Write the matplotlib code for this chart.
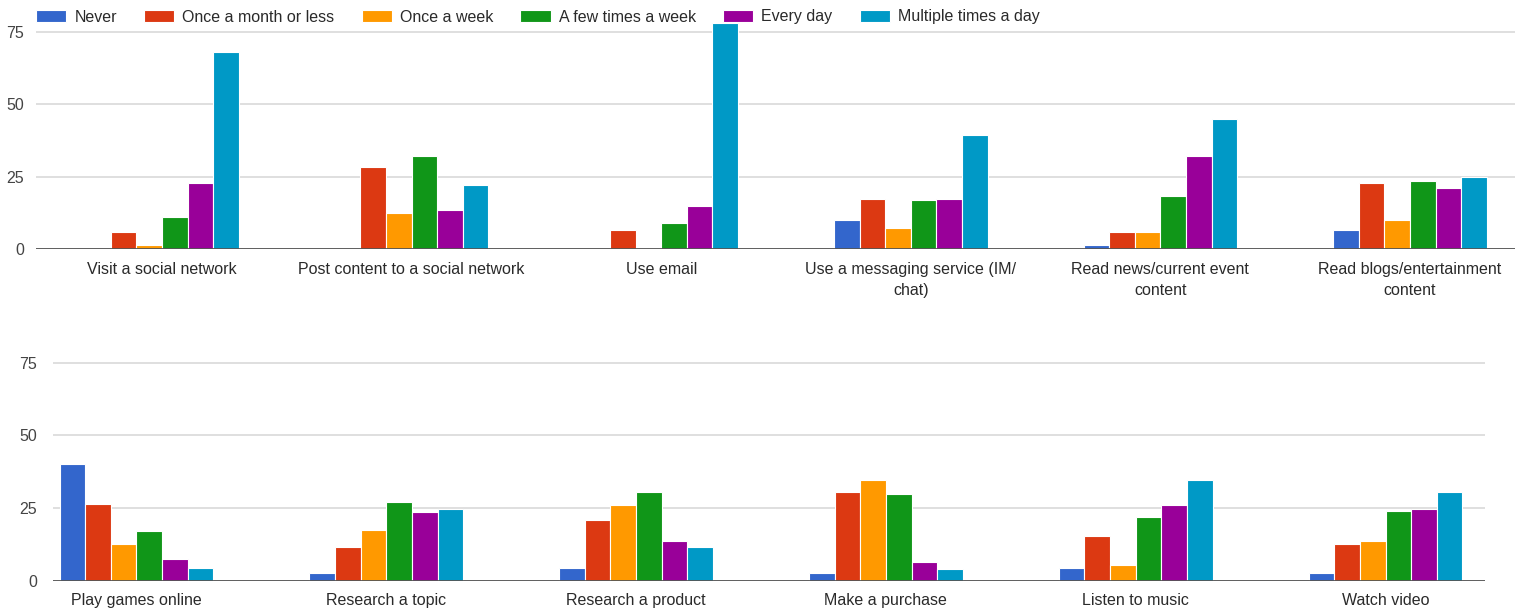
import matplotlib
matplotlib.use("Agg")
import matplotlib.pyplot as plt
import numpy as np

plt.rcParams['font.family'] = ['Liberation Sans', 'DejaVu Sans']

series = ["Never", "Once a month or less", "Once a week",
          "A few times a week", "Every day", "Multiple times a day"]
colors = ["#3366cc", "#dc3912", "#ff9900", "#109618", "#990099", "#0099c6"]

top_categories = ["Visit a social network", "Post content to a social network",
                  "Use email", "Use a messaging service (IM/\nchat)",
                  "Read news/current event\ncontent",
                  "Read blogs/entertainment\ncontent"]
bottom_categories = ["Play games online", "Research a topic", "Research a product",
                     "Make a purchase", "Listen to music", "Watch video"]

# rows: series (Never .. Multiple times a day), columns: activities
top_values = [
    [0, 0, 0, 10, 1.5, 6.5],          # Never
    [6, 28.5, 6.5, 17.5, 6, 23],      # Once a month or less
    [1.5, 12.5, 0.5, 7.5, 6, 10],     # Once a week
    [11, 32, 9, 17, 18.5, 23.5],      # A few times a week
    [23, 13.5, 15, 17.5, 32, 21],     # Every day
    [68, 22, 78, 39.5, 45, 25],       # Multiple times a day
]
bottom_values = [
    [40, 2.5, 4.5, 2.5, 4.5, 2.5],
    [26.5, 11.5, 21, 30.5, 15.5, 12.5],
    [12.5, 17.5, 26, 34.5, 5.5, 13.5],
    [17, 27, 30.5, 30, 22, 24],
    [7.5, 23.5, 13.5, 6.5, 26, 24.5],
    [4.5, 24.5, 11.5, 4, 34.5, 30.5],
]
yticks = [0, 25, 50, 75]

W, H = 1525, 612
fig = plt.figure(figsize=(W / 100, H / 100), dpi=100)

def px_axes(left, right, top, bottom):
    return fig.add_axes([left / W, 1 - bottom / H, (right - left) / W, (bottom - top) / H])

ax_top = px_axes(36, 1515, 23, 249.3)
ax_bot = px_axes(53, 1485, 354, 580.7)

slot = 0.1026
text_color = "#2a2a2a"

def draw_panel(ax, cats, values, xlim, ypad, xpad):
    x = np.arange(len(cats))
    handles = []
    for i, (name, col) in enumerate(zip(series, colors)):
        h = ax.bar(x + (i - 2.5) * slot, values[i], width=slot, color=col,
                   edgecolor="white", linewidth=0.8, zorder=3, label=name)
        handles.append(h)
    ax.set_xlim(*xlim)
    ax.set_ylim(0, 78)
    ax.set_yticks(yticks)
    ax.set_xticks(x)
    ax.set_xticklabels(cats, fontsize=11.5, color=text_color, linespacing=1.5)
    ax.tick_params(axis="x", length=0, pad=xpad)
    ax.tick_params(axis="y", length=0, pad=ypad, labelsize=11.5, labelcolor="#444444")
    ax.yaxis.grid(True, color="#d9d9d9", linewidth=1.2, zorder=0)
    ax.set_axisbelow(True)
    for s in ax.spines.values():
        s.set_visible(False)
    ax.axhline(0, color="#555555", linewidth=1.3, zorder=4)
    return handles

handles = draw_panel(ax_top, top_categories, top_values, (-0.505, 5.421), 8.5, 9)
draw_panel(ax_bot, bottom_categories, bottom_values, (-0.334, 5.398), 11.5, 8.5)

fig.legend(handles=handles, labels=series, loc="center left",
           bbox_to_anchor=(36 / W, 1 - 17 / H), ncol=6, frameon=False,
           fontsize=11.5, handlelength=1.9, handleheight=0.85,
           handletextpad=0.5, columnspacing=1.7, borderpad=0, borderaxespad=0,
           labelcolor=text_color)

fig.savefig("out.png", dpi=100, facecolor="white")
